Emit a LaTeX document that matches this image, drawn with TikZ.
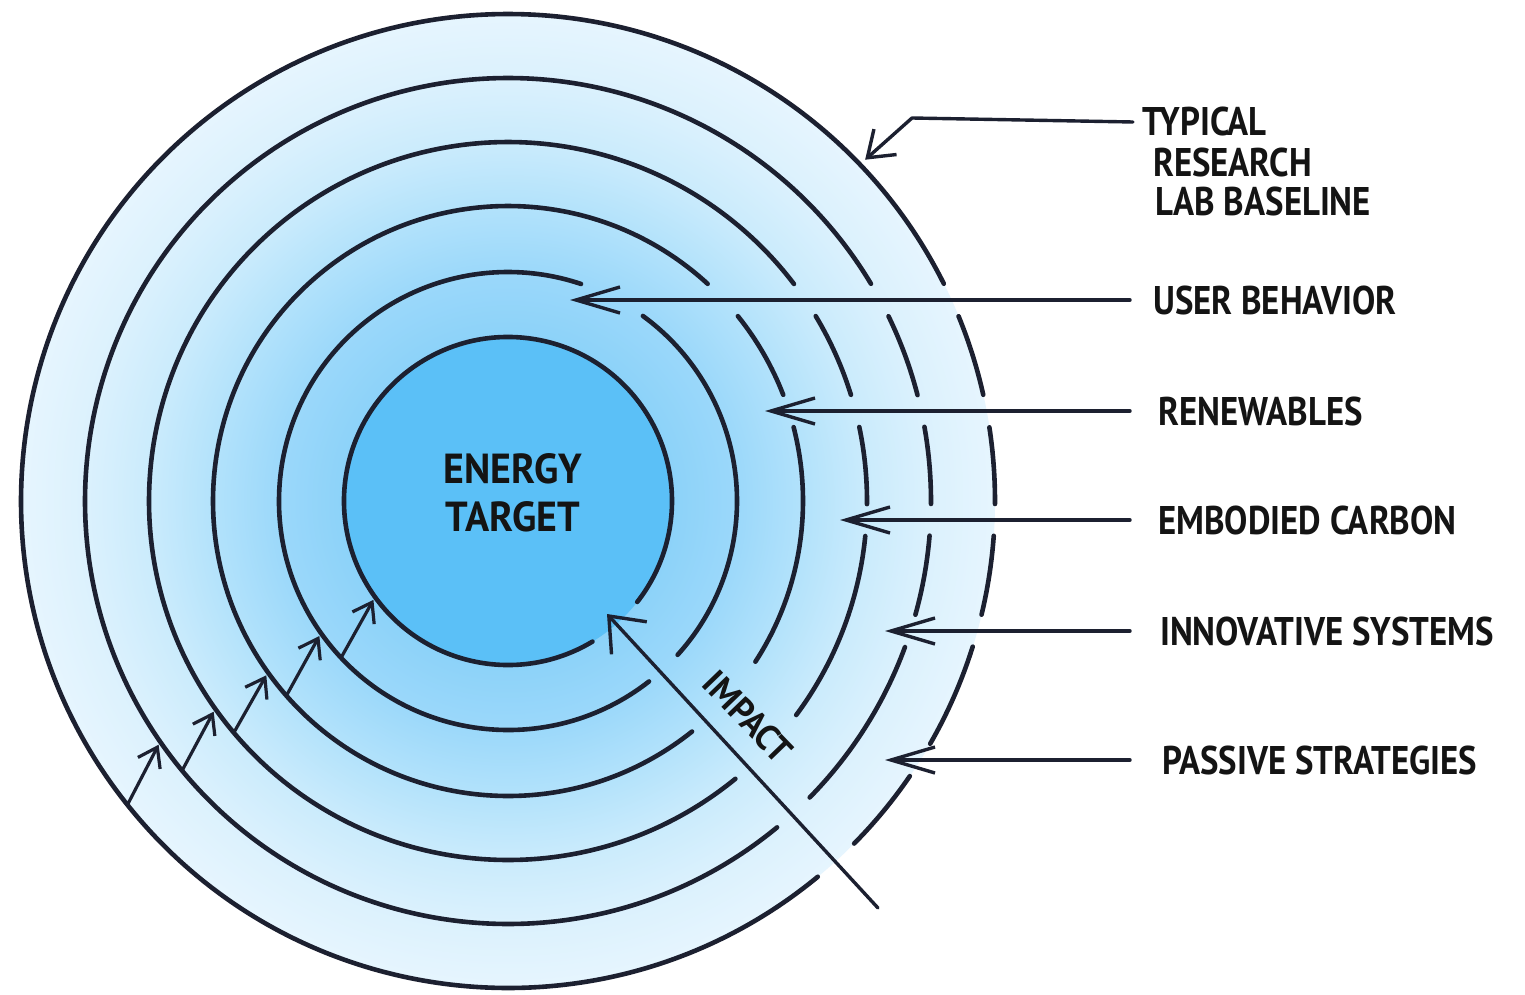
\documentclass[tikz,border=0pt]{standalone}
\usepackage{fontspec}
\newfontfamily\hand[FakeStretch=0.87]{PT Sans}
\newfontfamily\handwide[FakeStretch=0.95]{PT Sans}
\usetikzlibrary{arrows.meta}

\definecolor{ink}{HTML}{1C2030}
\definecolor{inktext}{HTML}{141414}
\definecolor{core}{HTML}{5BC0F7}
\definecolor{washA}{HTML}{8CD2F9}
\definecolor{washB}{HTML}{9BD8FA}
\definecolor{washC}{HTML}{B2E2FB}
\definecolor{washD}{HTML}{CAEBFC}
\definecolor{washE}{HTML}{DBF1FD}
\definecolor{washF}{HTML}{E6F5FE}

% watercolour wash: darker towards the target, paler towards the baseline ring
% (25bp is the rim of the shaded circle)
\pgfdeclareradialshading{ringwash}{\pgfpoint{0bp}{0bp}}{%
  color(0bp)=(washA); color(8.4bp)=(washA); color(11.75bp)=(washB);
  color(15.1bp)=(washC); color(18.4bp)=(washD); color(21.7bp)=(washE);
  color(25bp)=(washF); color(50bp)=(washF)}

% one piece of a ring: start angle, end angle, radius
\newcommand\ringarc[3]{\draw[ring] (C) ++(#1:#3) arc[start angle=#1, end angle=#2, radius=#3];}

\begin{document}
\begin{tikzpicture}[x=1pt, y=-1pt,
  ring/.style={draw=ink, line width=4.6pt, line cap=round},
  arr/.style={draw=ink, line width=3.4pt, line cap=round, line join=round},
  longtip/.style={arr, -{Straight Barb[length=44pt, width=26pt]}},
  steptip/.style={arr, line width=3.2pt, -{Straight Barb[length=18pt, width=25pt]}},
  lbl/.style={font=\hand\bfseries\fontsize{40}{44}\selectfont, text=inktext, anchor=west, inner ysep=0pt, inner xsep=0pt}]

% page
\useasboundingbox (0,0) rectangle (1525,995);
\fill[white] (0,0) rectangle (1525,995);
\coordinate (C) at (508,501);

% fills
\shade[shading=ringwash] (C) circle[radius=487];
\fill[core] (C) circle[radius=164];

% ring 1: typical research lab baseline
\ringarc{-22.3}{-12.6}{487}
\ringarc{-8.7}{0.35}{487}
\ringarc{4.1}{13.5}{487}
\ringarc{17.4}{29.9}{487}
\ringarc{34.4}{44.7}{487}
\ringarc{50.5}{333.5}{487}
% ring 2
\ringarc{-25.9}{-14.5}{423}
\ringarc{-10.1}{0.4}{423}
\ringarc{4.7}{15.6}{423}
\ringarc{20.2}{44.5}{423}
\ringarc{50.5}{329.1}{423}
% ring 3
\ringarc{-31.0}{-17.2}{359}
\ringarc{-11.9}{0.5}{359}
\ringarc{5.6}{36.6}{359}
\ringarc{50.7}{322.8}{359}
% ring 4
\ringarc{-38.8}{-21.1}{295}
\ringarc{-14.5}{33}{295}
\ringarc{51.4}{312.6}{295}
% ring 5
\ringarc{-53.9}{42.2}{229}
\ringarc{52}{288.6}{229}
% ring 6: energy target
\ringarc{59}{398}{164}

% labels
\node[lbl, inner xsep=9pt] (typ1) at (1133,122) {TYPICAL};
\node[lbl] (typ2) at (1153,163) {RESEARCH};
\node[lbl] (typ3) at (1155,201) {LAB BASELINE};
\node[lbl, inner xsep=23pt] (ub) at (1130,300) {USER BEHAVIOR};
\node[lbl, inner xsep=28pt] (re) at (1130,411) {RENEWABLES};
\node[lbl, inner xsep=28pt] (ec) at (1130,520) {EMBODIED CARBON};
\node[lbl, inner xsep=30pt] (is) at (1130,631) {INNOVATIVE SYSTEMS};
\node[lbl, inner xsep=32pt] (ps) at (1130,760) {PASSIVE STRATEGIES};

\node[font=\handwide\bfseries\fontsize{42}{48}\selectfont, text=inktext, align=center, inner sep=0pt] (target) at (513,493) {ENERGY\\TARGET};
\node[font=\handwide\bfseries\fontsize{36}{40}\selectfont, text=inktext, rotate=-46, inner sep=0pt] (impact) at (748,717) {IMPACT};

% arrow ends
\coordinate (ubtip) at (570,300);
\coordinate (retip) at (765,411);
\coordinate (ectip) at (840,520);
\coordinate (istip) at (885,631);
\coordinate (pstip) at (885,760);
\coordinate (typelbow) at (912,118);
\path (C) ++(-43.7:494) coordinate (typtip);
\coordinate (imptail) at (878,908);
\coordinate (imptip) at (607,614);

% label arrows
\draw[arr, -{Straight Barb[length=24pt, width=34pt]}] (typ1.west) -- (typelbow) -- (typtip);
\draw[longtip] (ub.west) -- (ubtip);
\draw[longtip] (re.west) -- (retip);
\draw[longtip] (ec.west) -- (ectip);
\draw[longtip] (is.west) -- (istip);
\draw[longtip] (ps.west) -- (pstip);
\draw[arr, -{Straight Barb[length=30pt, width=48pt]}] (imptail) -- (imptip);

% stepping arrows from ring to ring
\path (C) ++(141.4:487) coordinate (s1) (C) ++(145.1:426) coordinate (t1);
\path (C) ++(140.4:423) coordinate (s2) (C) ++(144.4:362) coordinate (t2);
\path (C) ++(139.8:359) coordinate (s3) (C) ++(144.2:298) coordinate (t3);
\path (C) ++(138.7:295) coordinate (s4) (C) ++(144.4:232) coordinate (t4);
\path (C) ++(136.8:229) coordinate (s5) (C) ++(143.7:167) coordinate (t5);
\foreach \k in {1,...,5} { \draw[steptip] (s\k) -- (t\k); }
\end{tikzpicture}
\end{document}
